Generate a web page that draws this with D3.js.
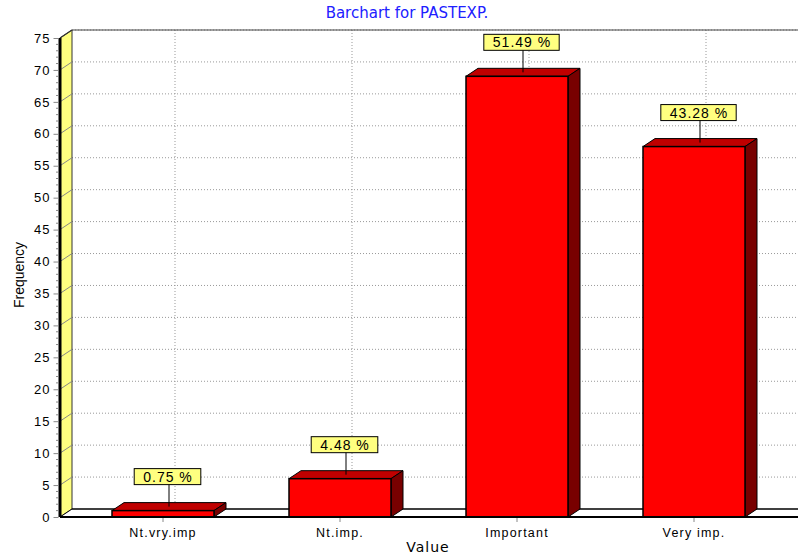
<!DOCTYPE html>
<html>
<head>
<meta charset="utf-8">
<script src="https://cdn.jsdelivr.net/npm/d3@7"></script>
<style>
  body { margin: 0; background: #fff; }
  svg { display: block; }
</style>
</head>
<body>
<svg id="chart" width="798" height="557"></svg>
<script>
// chart values
const categories = ['Nt.vry.imp', 'Nt.imp.', 'Important', 'Very imp.'];
const counts = [1, 6, 69, 58];
const percentLabels = ['0.75 %', '4.48 %', '51.49 %', '43.28 %'];
const yTicks = [0, 5, 10, 15, 20, 25, 30, 35, 40, 45, 50, 55, 60, 65, 70, 75];

const svg = d3.select('#chart');
const W = 798;
// 3d depth offset
const dx = 12, dy = -8;
const font = 'Liberation Sans, Arial, sans-serif';

const y = d3.scaleLinear().domain([0, 75]).range([517, 38]);
const x = d3.scaleBand().domain(categories).range([74.5, 782.5]).padding(0);
const barW = 102;

const left = 60, right = W;
const y0 = y(0), yTop = y(75);

// back wall grid lines (dotted)
svg.append('g').selectAll('line').data(yTicks.slice(1)).join('line')
    .attr('x1', left + dx).attr('x2', right)
    .attr('y1', d => y(d) + dy).attr('y2', d => y(d) + dy)
    .attr('stroke', '#999').attr('stroke-dasharray', '1,2').attr('stroke-width', 1);

svg.append('g').selectAll('line').data(categories).join('line')
    .attr('x1', d => x(d) + x.bandwidth() / 2 + dx).attr('x2', d => x(d) + x.bandwidth() / 2 + dx)
    .attr('y1', yTop + dy).attr('y2', y0 + dy)
    .attr('stroke', '#999').attr('stroke-dasharray', '1,2').attr('stroke-width', 1);

// top border of back wall
svg.append('line')
    .attr('x1', left + dx).attr('x2', right)
    .attr('y1', yTop + dy).attr('y2', yTop + dy)
    .attr('stroke', '#444').attr('stroke-width', 1.2);

// side wall (yellow)
svg.append('path')
    .attr('d', `M${left},${y0} L${left},${yTop} L${left + dx},${yTop + dy} L${left + dx},${y0 + dy} Z`)
    .attr('fill', '#ffff80').attr('stroke', '#333').attr('stroke-width', 1);

svg.append('g').selectAll('line').data(yTicks.slice(1, -1)).join('line')
    .attr('x1', left).attr('x2', left + dx)
    .attr('y1', d => y(d)).attr('y2', d => y(d) + dy)
    .attr('stroke', '#888').attr('stroke-width', 1);

// floor
svg.append('path')
    .attr('d', `M${left},${y0} L${left + dx},${y0 + dy} L${right},${y0 + dy} L${right},${y0} Z`)
    .attr('fill', '#fff');
svg.append('line')
    .attr('x1', left + dx).attr('x2', right)
    .attr('y1', y0 + dy).attr('y2', y0 + dy)
    .attr('stroke', '#000').attr('stroke-width', 1.5);
svg.append('line')
    .attr('x1', left).attr('x2', left + dx)
    .attr('y1', y0).attr('y2', y0 + dy)
    .attr('stroke', '#000').attr('stroke-width', 1);

// bars
const bars = svg.append('g').selectAll('g').data(counts).join('g');
bars.each(function(d, i) {
    const g = d3.select(this);
    const cx = x(categories[i]) + x.bandwidth() / 2;
    const x0 = cx - barW / 2, x1 = cx + barW / 2;
    const yt = y(d);
    // top face
    g.append('path')
        .attr('d', `M${x0},${yt} L${x0 + dx},${yt + dy} L${x1 + dx},${yt + dy} L${x1},${yt} Z`)
        .attr('fill', '#c00000').attr('stroke', '#000').attr('stroke-width', 1);
    // side face
    g.append('path')
        .attr('d', `M${x1},${yt} L${x1 + dx},${yt + dy} L${x1 + dx},${y0 + dy} L${x1},${y0} Z`)
        .attr('fill', '#780000').attr('stroke', '#000').attr('stroke-width', 1);
    // front face
    g.append('rect')
        .attr('x', x0).attr('y', yt).attr('width', barW).attr('height', y0 - yt)
        .attr('fill', '#ff0000').attr('stroke', '#000').attr('stroke-width', 1.5);
});

// front floor line (drawn over bars bottoms)
svg.append('line')
    .attr('x1', left).attr('x2', right)
    .attr('y1', y0).attr('y2', y0)
    .attr('stroke', '#000').attr('stroke-width', 2);

// front y axis line (thick black)
svg.append('line')
    .attr('x1', left).attr('x2', left)
    .attr('y1', yTop).attr('y2', y0)
    .attr('stroke', '#000').attr('stroke-width', 3);
svg.append('line')
    .attr('x1', left).attr('x2', left + dx)
    .attr('y1', yTop).attr('y2', yTop + dy)
    .attr('stroke', '#333').attr('stroke-width', 1.2);

// y axis ticks and labels
const yAxis = d3.axisLeft(y).tickValues(yTicks).tickSize(5).tickPadding(3).tickFormat(d3.format('d'));
const ya = svg.append('g').attr('transform', `translate(${left - 1.5},0)`).call(yAxis);
ya.select('.domain').remove();
ya.selectAll('line').attr('stroke', '#888');
ya.selectAll('text').attr('font-family', font).attr('font-size', 13)
    .attr('letter-spacing', 1).attr('fill', '#000');

const minor = d3.range(0, 76).filter(v => v % 5 !== 0);
svg.append('g').selectAll('line').data(minor).join('line')
    .attr('x1', left - 4).attr('x2', left - 1.5)
    .attr('y1', d => y(d)).attr('y2', d => y(d))
    .attr('stroke', '#888').attr('stroke-width', 1);

// x axis ticks and labels
const xAxis = d3.axisBottom(x).tickSize(4).tickPadding(6);
const xa = svg.append('g').attr('transform', `translate(0,${y0 + 1})`).call(xAxis);
xa.select('.domain').remove();
xa.selectAll('line').attr('stroke', '#888');
xa.selectAll('text').attr('font-family', font).attr('font-size', 12.5)
    .attr('letter-spacing', 1.2).attr('fill', '#000');

// percentage callouts
const labels = svg.append('g');
counts.forEach(function(d, i) {
    const cx = x(categories[i]) + x.bandwidth() / 2 + dx / 2;
    const ym = y(d) + dy / 2;
    const boxBottom = ym - 22;
    labels.append('line')
        .attr('x1', cx).attr('x2', cx)
        .attr('y1', boxBottom).attr('y2', ym)
        .attr('stroke', '#000').attr('stroke-width', 1);
    const t = labels.append('text')
        .attr('x', cx - 1).attr('y', boxBottom - 3)
        .attr('text-anchor', 'middle')
        .attr('font-family', font).attr('font-size', 14).attr('letter-spacing', 1)
        .text(percentLabels[i]);
    const bb = t.node().getBBox();
    labels.insert('rect', 'text')
        .attr('x', bb.x - 9).attr('y', boxBottom - 16)
        .attr('width', bb.width + 17).attr('height', 16)
        .attr('fill', '#ffff80').attr('stroke', '#000').attr('stroke-width', 1);
});

// titles
svg.append('text')
    .attr('x', 407).attr('y', 18).attr('text-anchor', 'middle')
    .attr('font-family', 'DejaVu Sans, Verdana, sans-serif').attr('font-size', 15)
    .attr('fill', '#2020ff').text('Barchart for PASTEXP.');

svg.append('text')
    .attr('transform', 'translate(24,275) rotate(-90)').attr('text-anchor', 'middle')
    .attr('font-family', font).attr('font-size', 14)
    .text('Frequency');

svg.append('text')
    .attr('x', 428).attr('y', 552).attr('text-anchor', 'middle')
    .attr('font-family', 'DejaVu Sans, Verdana, sans-serif').attr('font-size', 14)
    .attr('letter-spacing', 1)
    .text('Value');
</script>
</body>
</html>
